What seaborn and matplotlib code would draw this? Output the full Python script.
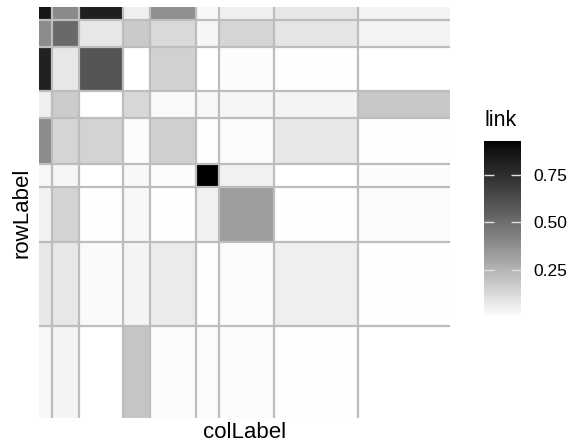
import numpy as np
import pandas as pd
import matplotlib
matplotlib.use("Agg")
import matplotlib.pyplot as plt
import seaborn as sns
from matplotlib.colors import ListedColormap

# cluster sizes (same order on rows and columns)
cluster_sizes = [13, 27, 44, 27, 46, 23, 54, 84, 92]

# mean link value of each block, rows top -> bottom, cols left -> right
block_r0 = [0.86, 0.395, 0.82, 0.052, 0.38, 0.025, 0.052, 0.079, 0.038]
block_r1 = [0.388, 0.517, 0.079, 0.178, 0.126, 0.032, 0.139, 0.086, 0.040]
block_r2 = [0.81, 0.079, 0.594, 0.0, 0.152, 0.0, 0.011, 0.007, 0.0]
block_r3 = [0.052, 0.171, 0.0, 0.132, 0.018, 0.025, 0.032, 0.038, 0.185]
block_r4 = [0.388, 0.139, 0.145, 0.011, 0.158, 0.007, 0.011, 0.079, 0.007]
block_r5 = [0.025, 0.032, 0.0, 0.025, 0.011, 0.93, 0.045, 0.0, 0.011]
block_r6 = [0.045, 0.145, 0.004, 0.025, 0.007, 0.045, 0.326, 0.007, 0.011]
block_r7 = [0.079, 0.079, 0.018, 0.038, 0.069, 0.004, 0.011, 0.052, 0.007]
block_r8 = [0.025, 0.038, 0.0, 0.192, 0.011, 0.011, 0.011, 0.007, 0.0]

cbar_ticks = [0.25, 0.50, 0.75]

blocks = np.array([block_r0, block_r1, block_r2, block_r3, block_r4,
                   block_r5, block_r6, block_r7, block_r8])
mat = np.repeat(np.repeat(blocks, cluster_sizes, axis=0), cluster_sizes, axis=1)
df = pd.DataFrame(mat)

# white -> black gradient, linear in lightness (like ggplot's gradient)
t = np.linspace(0, 1, 256)
L = 100 * (1 - t)
Y = np.where(L > 8, ((L + 16) / 116) ** 3, L / 903.3)
s = np.where(Y <= 0.0031308, 12.92 * Y, 1.055 * Y ** (1 / 2.4) - 0.055)
grey_cmap = ListedColormap(np.stack([s, s, s], axis=1))

plt.rcParams['font.family'] = ['Liberation Sans', 'DejaVu Sans']

fig = plt.figure(figsize=(5.68, 4.46), dpi=100)
ax = fig.add_axes([39 / 568, 28 / 446, 411 / 568, 411 / 446])
cax = fig.add_axes([484 / 568, 129 / 446, 37 / 568, 176 / 446])

sns.heatmap(df, cmap=grey_cmap, vmin=0, vmax=0.93, ax=ax, cbar_ax=cax,
            xticklabels=False, yticklabels=False, rasterized=True)

bounds = np.cumsum(cluster_sizes)[:-1]
for b in bounds:
    ax.axhline(b, color='#bdbdbd', lw=1.6)
    ax.axvline(b, color='#bdbdbd', lw=1.6)

ax.set_xlabel('colLabel', fontsize=16, labelpad=3)
ax.set_ylabel('rowLabel', fontsize=16, labelpad=5)
ax.tick_params(length=0)

cbar = ax.collections[0].colorbar
cbar.outline.set_visible(False)
cbar.set_ticks(cbar_ticks)
cbar.set_ticklabels([f'{v:.2f}' for v in cbar_ticks])
cax.tick_params(direction='in', left=True, right=True, color='#e0e0e0',
                length=7, width=1, labelsize=12.5, pad=9)
fig.text(484 / 568, 1 - 120 / 446, 'link', fontsize=15.5, va='center', ha='left')

fig.savefig('out.png', dpi=100)
